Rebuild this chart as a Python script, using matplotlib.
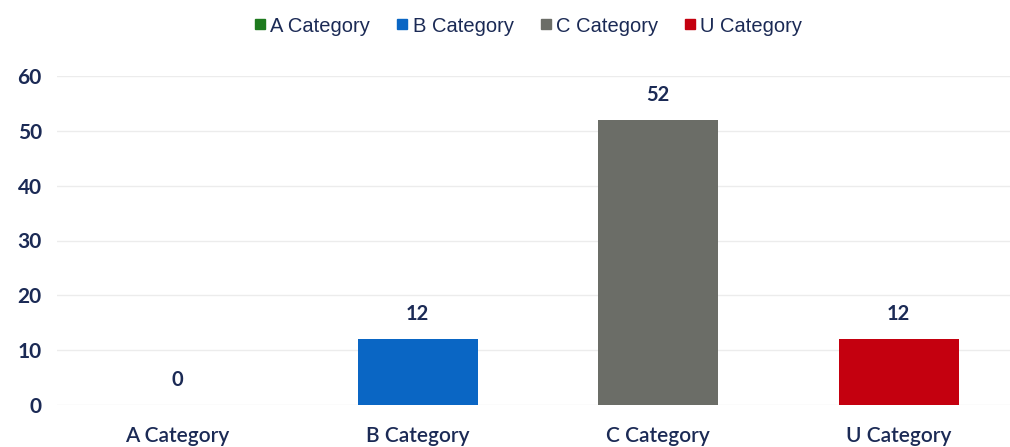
import numpy as np
import matplotlib
matplotlib.use('Agg')
from matplotlib import pyplot as plt
from matplotlib.lines import Line2D

categories = ['A Category', 'B Category', 'C Category', 'U Category']
values = [0, 12, 52, 12]
colors = ['#1e7a1e', '#0a66c4', '#6b6d67', '#c4000f']
yticks = [0, 10, 20, 30, 40, 50, 60]

navy = '#1b2a55'
plt.rcParams['font.family'] = ['Lato', 'DejaVu Sans']

fig = plt.figure(figsize=(10.10, 4.47), dpi=100)
ax = fig.add_axes([57 / 1010, 1 - 405 / 447, 953 / 1010, 329 / 447])

x = np.arange(len(categories))
bars = ax.bar(x, values, width=0.5, color=colors, zorder=3)

for xi, v in zip(x, values):
    ax.annotate(str(v), (xi, v), xytext=(0, 11), textcoords='offset points',
                ha='center', va='bottom', fontsize=14.5, fontweight='bold', color=navy)

ax.set_xlim(-0.5, -0.5 + 953 / 240.5)
ax.set_ylim(0, 60)
ax.set_yticks(yticks)
ax.set_xticks(x)
ax.set_xticklabels(categories, fontsize=15, fontweight='semibold', color=navy)
ax.tick_params(axis='x', length=0, pad=15)
ax.tick_params(axis='y', length=0, pad=11, labelsize=15, labelcolor=navy)
for lbl in ax.get_yticklabels():
    lbl.set_fontweight('bold')

ax.grid(axis='y', color='#ececec', linewidth=1, zorder=0)
for s in ax.spines.values():
    s.set_visible(False)

handles = [Line2D([], [], marker='s', linestyle='none', markersize=7, color=c) for c in colors]
leg = fig.legend(handles, categories, loc='center', bbox_to_anchor=(0.523, 1 - 26 / 447),
                 ncol=4, frameon=False, handlelength=0.6, handletextpad=0.2,
                 columnspacing=1.3, prop={'family': 'Liberation Sans', 'size': 14.5})
for t in leg.get_texts():
    t.set_color(navy)

fig.savefig('out.png', dpi=100)
